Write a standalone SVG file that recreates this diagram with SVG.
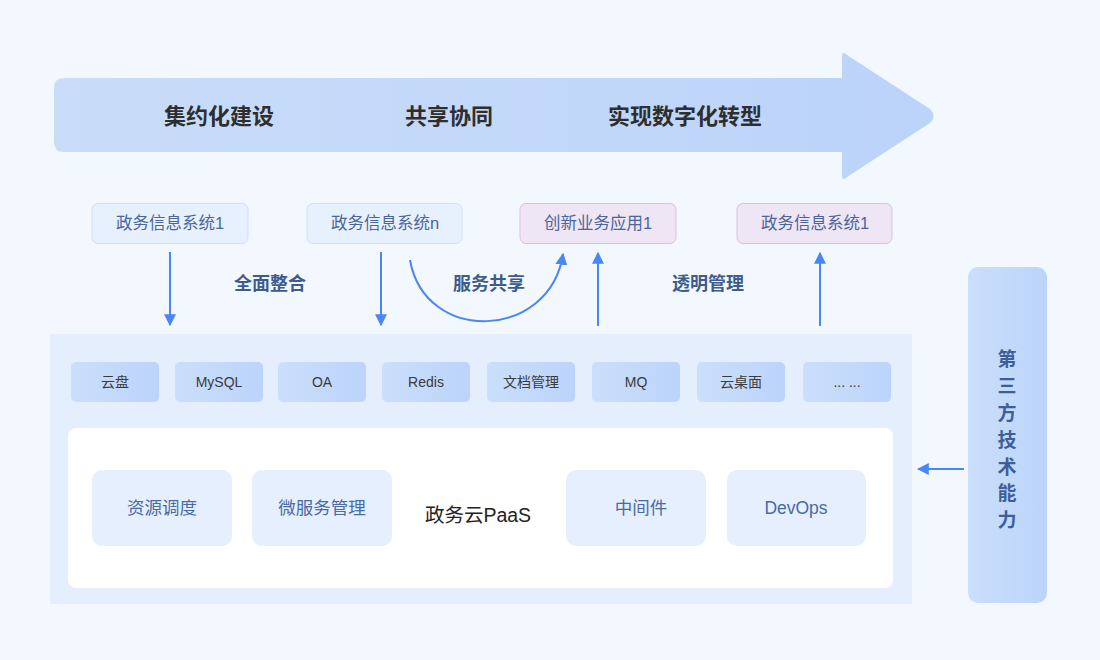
<svg xmlns="http://www.w3.org/2000/svg" width="1100" height="660" viewBox="0 0 1100 660">
<defs>
<linearGradient id="gArrow" x1="0" y1="0" x2="1" y2="0"><stop offset="0" stop-color="#c9ddf9"/><stop offset="1" stop-color="#bcd3fa"/></linearGradient>
<linearGradient id="gChip" x1="0" y1="0" x2="1" y2="0"><stop offset="0" stop-color="#cadffb"/><stop offset="1" stop-color="#bcd4fa"/></linearGradient>
<marker id="ah" viewBox="0 0 10 10" refX="9" refY="5" markerWidth="12" markerHeight="12" markerUnits="userSpaceOnUse" orient="auto"><path d="M0,0 L10,5 L0,10 Z" fill="#4a86f6"/></marker>
<style>
.cn{font-family:"Liberation Sans","Noto Sans CJK SC",sans-serif;}
.big{font-size:22px;font-weight:700;fill:#2e2e2e;}
.sys{font-size:16.5px;fill:#4a659c;}
.sysb{fill:#e7f0fd;stroke:#cfe0f8;stroke-width:1;}
.app{fill:#eee6f4;stroke:#dcbde3;stroke-width:1;}
.lbl{font-size:18px;font-weight:700;fill:#3d5b8c;}
.chip{fill:url(#gChip);}
.chipt{font-size:14px;fill:#3a3a3a;}
.inner{fill:#e5effd;}
.innert{font-size:17.5px;fill:#4a6aa6;}
.conn{fill:none;stroke:#4a86f6;stroke-width:2;}
</style>
</defs>
<rect width="1100" height="660" fill="#f3f8fe"/>
<g id="banner">
<path d="M64,78 L842,78 L842,57 Q842,50 847,55 L930,109 Q937,116 930,123 L847,177 Q842,182 842,175 L842,152 L64,152 Q54,152 54,142 L54,88 Q54,78 64,78 Z" fill="url(#gArrow)"/>
<text class="cn big" x="219" y="124" text-anchor="middle">集约化建设</text>
<text class="cn big" x="449" y="124" text-anchor="middle">共享协同</text>
<text class="cn big" x="685" y="124" text-anchor="middle">实现数字化转型</text>
</g>
<g id="sys1"><rect class="sysb" x="92" y="203.5" width="156" height="40" rx="6"/><text class="cn sys" x="170" y="229" text-anchor="middle">政务信息系统1</text></g>
<g id="sysn"><rect class="sysb" x="307" y="203.5" width="155" height="40" rx="6"/><text class="cn sys" x="385" y="229" text-anchor="middle">政务信息系统n</text></g>
<g id="app1"><rect class="app" x="520" y="203.5" width="156" height="40" rx="6"/><text class="cn sys" x="598" y="229" text-anchor="middle">创新业务应用1</text></g>
<g id="sys1b"><rect class="app" x="737" y="203.5" width="155" height="40" rx="6"/><text class="cn sys" x="815" y="229" text-anchor="middle">政务信息系统1</text></g>
<g id="labels">
<text class="cn lbl" x="270" y="290" text-anchor="middle">全面整合</text>
<text class="cn lbl" x="489" y="290" text-anchor="middle">服务共享</text>
<text class="cn lbl" x="708" y="290" text-anchor="middle">透明管理</text>
</g>
<g id="paas-layer">
<rect x="50" y="334" width="862" height="270" fill="#e4eefd"/>
<g id="chips">
<rect class="chip" x="71" y="362" width="88" height="40" rx="5"/><text class="cn chipt" x="115" y="387" text-anchor="middle">云盘</text>
<rect class="chip" x="175" y="362" width="88" height="40" rx="5"/><text class="cn chipt" x="219" y="387" text-anchor="middle">MySQL</text>
<rect class="chip" x="278" y="362" width="88" height="40" rx="5"/><text class="cn chipt" x="322" y="387" text-anchor="middle">OA</text>
<rect class="chip" x="382" y="362" width="88" height="40" rx="5"/><text class="cn chipt" x="426" y="387" text-anchor="middle">Redis</text>
<rect class="chip" x="487" y="362" width="88" height="40" rx="5"/><text class="cn chipt" x="531" y="387" text-anchor="middle">文档管理</text>
<rect class="chip" x="592" y="362" width="88" height="40" rx="5"/><text class="cn chipt" x="636" y="387" text-anchor="middle">MQ</text>
<rect class="chip" x="697" y="362" width="88" height="40" rx="5"/><text class="cn chipt" x="741" y="387" text-anchor="middle">云桌面</text>
<rect class="chip" x="803" y="362" width="88" height="40" rx="5"/><text class="cn chipt" x="847" y="387" text-anchor="middle">... ...</text>
</g>
<rect x="68" y="428" width="825" height="160" rx="8" fill="#ffffff"/>
<g id="n-res"><rect class="inner" x="92" y="470" width="140" height="76" rx="10"/><text class="cn innert" x="162" y="514" text-anchor="middle">资源调度</text></g>
<g id="n-micro"><rect class="inner" x="252" y="470" width="140" height="76" rx="10"/><text class="cn innert" x="322" y="514" text-anchor="middle">微服务管理</text></g>
<text class="cn" x="478" y="522" text-anchor="middle" font-size="19.5" fill="#222">政务云PaaS</text>
<g id="n-mid"><rect class="inner" x="566" y="470" width="140" height="76" rx="10"/><text class="cn innert" x="641" y="514" text-anchor="middle">中间件</text></g>
<g id="n-devops"><rect class="inner" x="727" y="470" width="139" height="76" rx="10"/><text class="cn innert" x="796" y="514" text-anchor="middle">DevOps</text></g>
</g>
<g id="third">
<rect x="968" y="267" width="79" height="336" rx="10" fill="url(#gChip)"/>
<g class="cn" font-size="19" font-weight="700" fill="#3d5f99" text-anchor="middle">
<text x="1007" y="366">第</text>
<text x="1007" y="393">三</text>
<text x="1007" y="420">方</text>
<text x="1007" y="447">技</text>
<text x="1007" y="474">术</text>
<text x="1007" y="500">能</text>
<text x="1007" y="527">力</text>
</g>
</g>
<g id="connectors">
<line class="conn" x1="170" y1="252" x2="170" y2="325" marker-end="url(#ah)"/>
<line class="conn" x1="381" y1="252" x2="381" y2="325" marker-end="url(#ah)"/>
<path class="conn" d="M410,260 C425,345 550,340 563,254" marker-end="url(#ah)"/>
<line class="conn" x1="598" y1="326" x2="598" y2="253" marker-end="url(#ah)"/>
<line class="conn" x1="820" y1="326" x2="820" y2="253" marker-end="url(#ah)"/>
<line class="conn" x1="964" y1="469" x2="918" y2="469" marker-end="url(#ah)"/>
</g>
</svg>
